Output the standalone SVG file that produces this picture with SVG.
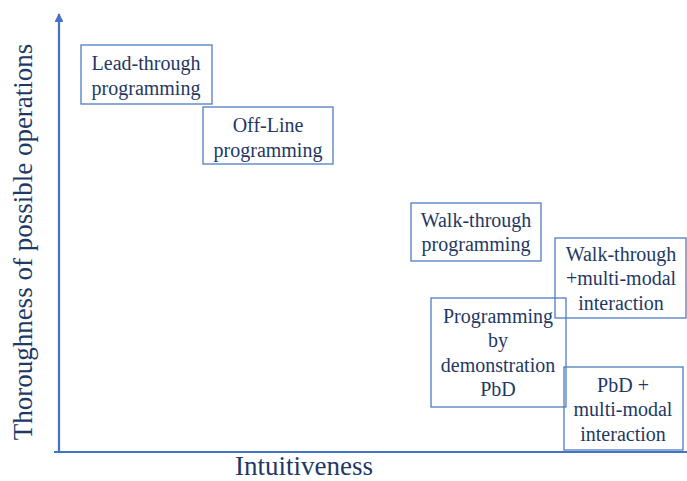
<svg xmlns="http://www.w3.org/2000/svg" width="687" height="481" viewBox="0 0 687 481">
<style>
.box{fill:none;stroke:#4f7cc2;stroke-width:1.3}
.t{font-family:"Liberation Serif","Times New Roman",serif;font-size:20px;fill:#1f3864;text-anchor:middle}
.ax{font-family:"Liberation Serif","Times New Roman",serif;font-size:27px;fill:#1f3864;text-anchor:middle}
.axis{stroke:#4472c4;stroke-width:2.2;fill:none}
</style>
<defs>
<marker id="arr" viewBox="0 0 10 10" refX="9" refY="5" markerWidth="4" markerHeight="4" orient="auto">
<path d="M0,0 L10,5 L0,10 z" fill="#4472c4"/>
</marker>
</defs>
<rect width="687" height="481" fill="#fff"/>
<g id="axes">
<path class="axis" d="M59,452 L59,14" marker-end="url(#arr)"/>
<path class="axis" d="M54,452 L687,452"/>
<text class="ax" transform="translate(32,242) rotate(-90)">Thoroughness of possible operations</text>
<text class="ax" x="304" y="474.5">Intuitiveness</text>
</g>
<g id="lead-through">
<rect class="box" x="81" y="45" width="131" height="59"/>
<text class="t" x="146" y="70">Lead-through</text>
<text class="t" x="146" y="95">programming</text>
</g>
<g id="off-line">
<rect class="box" x="203" y="107" width="130" height="57"/>
<text class="t" x="268" y="132">Off-Line</text>
<text class="t" x="268" y="157">programming</text>
</g>
<g id="walk-through">
<rect class="box" x="411" y="203" width="130" height="58"/>
<text class="t" x="476" y="227">Walk-through</text>
<text class="t" x="476" y="251">programming</text>
</g>
<g id="walk-through-mm">
<rect class="box" x="555" y="238" width="131" height="80"/>
<text class="t" x="621" y="261">Walk-through</text>
<text class="t" x="621" y="285">+multi-modal</text>
<text class="t" x="621" y="310">interaction</text>
</g>
<g id="pbd">
<rect class="box" x="431" y="298" width="135" height="109"/>
<text class="t" x="498" y="323">Programming</text>
<text class="t" x="498" y="347">by</text>
<text class="t" x="498" y="372">demonstration</text>
<text class="t" x="498" y="396">PbD</text>
</g>
<g id="pbd-mm">
<rect class="box" x="564" y="367" width="119" height="83"/>
<text class="t" x="623" y="392">PbD +</text>
<text class="t" x="623" y="416">multi-modal</text>
<text class="t" x="623" y="441">interaction</text>
</g>
<g id="connectors"/>
</svg>
